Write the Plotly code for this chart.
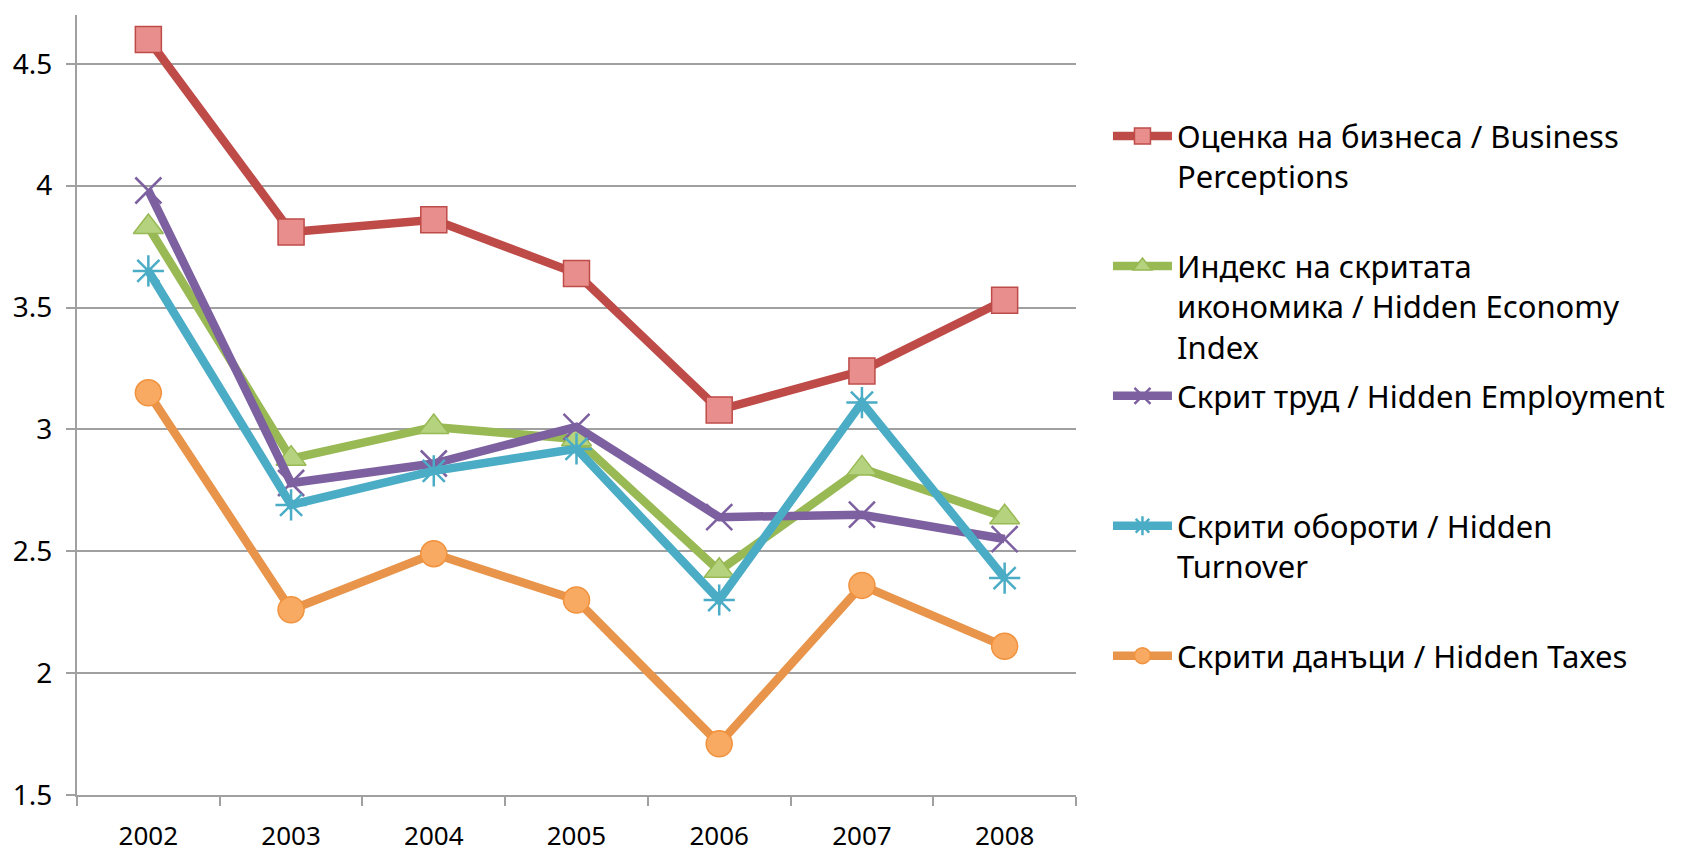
import plotly.graph_objects as go

years = ["2002", "2003", "2004", "2005", "2006", "2007", "2008"]
business = [4.60, 3.81, 3.86, 3.64, 3.08, 3.24, 3.53]
hidden_economy = [3.83, 2.88, 3.01, 2.96, 2.42, 2.84, 2.64]
hidden_employment = [3.98, 2.78, 2.86, 3.01, 2.64, 2.65, 2.55]
hidden_turnover = [3.65, 2.69, 2.83, 2.92, 2.30, 3.11, 2.39]
hidden_taxes = [3.15, 2.26, 2.49, 2.30, 1.71, 2.36, 2.11]

names = [
    "Оценка на бизнеса / Business<br>Perceptions<br>\u00a0",
    "Индекс на скритата<br>икономика / Hidden Economy<br>Index",
    "Скрит труд / Hidden Employment<br>\u00a0<br>\u00a0",
    "Скрити обороти / Hidden<br>Turnover<br>\u00a0",
    "Скрити данъци / Hidden Taxes<br>\u00a0<br>\u00a0",
]
series = [business, hidden_economy, hidden_employment, hidden_turnover, hidden_taxes]
line_colors = ["#BE4B48", "#98B954", "#7D60A0", "#4BACC6", "#E8944A"]
marker_fills = ["#E88F8D", "#B5D27E", "#7D60A0", "#4BACC6", "#F9AA62"]
marker_lines = ["#BE4B48", "#98B954", "#7D60A0", "#4BACC6", "#F0923E"]
symbols = ["square", "triangle-up", "x-thin-open", "asterisk-open", "circle"]
sizes = [26, 26, 26, 26, 26]
mline_w = [1.5, 1.5, 2.5, 2.5, 1.5]

font_family = "Noto Sans, DejaVu Sans, sans-serif"

fig = go.Figure()
for i, (nm, ys) in enumerate(zip(names, series)):
    fig.add_trace(go.Scatter(
        x=years, y=ys, name=nm, mode="lines+markers",
        legendgroup=str(i),
        line=dict(color=line_colors[i], width=8.5),
        marker=dict(symbol=symbols[i], size=sizes[i], color=marker_fills[i],
                    line=dict(color=marker_lines[i], width=mline_w[i])),
    ))

fig.update_layout(
    width=1678, height=844,
    margin=dict(l=69, r=610, t=7, b=57, autoexpand=False),
    plot_bgcolor="white", paper_bgcolor="white",
    font=dict(family=font_family, color="black"),
    showlegend=True,
    legend=dict(
        x=1.032, xanchor="left", y=0.879, yanchor="top",
        font=dict(size=31, family=font_family, color="black"),
        valign="top", itemwidth=59, tracegroupgap=6,
        bgcolor="rgba(0,0,0,0)",
    ),
    xaxis=dict(
        type="category", showgrid=False, showline=True, linecolor="#A0A0A0", linewidth=2,
        ticks="outside", tickson="boundaries", ticklen=9, tickcolor="#A0A0A0", tickwidth=2,
        tickfont=dict(size=26, family=font_family, color="black"),
        ticklabelstandoff=17, range=[-0.5, 6.5], zeroline=False, automargin=False,
    ),
    yaxis=dict(
        range=[1.5, 4.7], tickvals=[1.5, 2, 2.5, 3, 3.5, 4, 4.5],
        ticktext=["1.5", "2", "2.5", "3", "3.5", "4", "4.5"],
        showgrid=True, gridcolor="#A0A0A0", gridwidth=2,
        showline=True, linecolor="#A0A0A0", linewidth=2,
        ticks="outside", ticklen=9, tickcolor="#A0A0A0", tickwidth=2,
        tickfont=dict(size=28, family=font_family, color="black"),
        ticklabelstandoff=8, zeroline=False, automargin=False,
    ),
)

fig.write_html("out.html")
